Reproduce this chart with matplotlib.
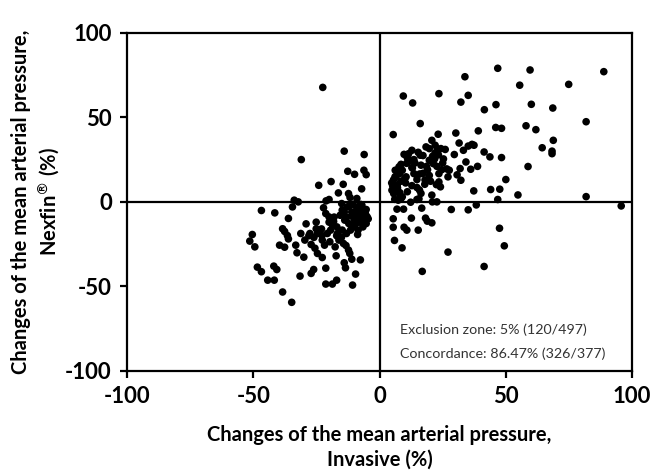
import matplotlib
matplotlib.use("Agg")
import matplotlib.pyplot as plt

# Changes of MAP: invasive (x, %) vs Nexfin (y, %)
invasive = [
    88.8, 46.8, 59.6, 74.9, 55.5, 33.8, 23.5, 9.4, 13.1, 35.1, 32.2, 46.1, 60.1, 68.6, 41.5,
    81.8, 58.0, 61.9, 46.0, 48.3, 16.1, 39.1, 30.2, 5.4, 23.2, 68.8, 64.4, 68.3, 68.3, 58.8,
    54.8, 81.8, 95.7, 50.0, 48.3, 43.7, 41.4, 36.6, 37.4, 35.1, 31.5, 33.2, 29.6, 38.8, 36.1,
    34.2, 31.9, 30.7, 32.2, 37.3, 44.0, 47.6, 46.8, 38.3, 35.1, 28.4, 47.5, 49.4, 41.4, 27.1,
    16.9, 23.5,
    5.9, 8.9, 5.4, 5.4, 9.7, 10.8, 15.3, 12.6, 18.2, 18.9, 20.7, 16.7, 6.9, 9.5, 20.9,
    22.7, 20.7, 16.4, 15.8, 15.6, 14.8, 12.8, 10.3, 8.4, 8.2, 5.6, 4.9, 4.8, 6.1, 6.2,
    7.7, 8.5, 9.7, 11.5, 12.8, 15.3, 16.1, 17.2, 13.6, 10.7, 12.8, 13.6, 10.5, 15.9, 17.2,
    18.6, 19.7, 20.7, 22.0, 23.0, 24.3, 26.0, 23.3, 25.3, 21.8, 21.3, 22.7, 24.6, 26.6, 27.6,
    27.1, 23.5, 22.5, 24.1, 19.7, 20.2, 17.9, 14.8, 7.9, 9.0, 7.1, 7.4, 12.3, 14.8, 12.3,
    18.4, 19.7, 16.4,
    6.0, 7.0, 5.5, 6.5, 8.0, 11.0, 9.0, 6.0, 5.2, 7.5, 10.0, 13.0, 11.0, 14.0, 19.0,
    21.0, 25.0, 22.0, 18.0, 8.5,
    -22.5, -31.0, -14.0, -6.1, -12.6, -9.9, -6.2, -5.3, -19.2, -24.1, -14.4, -16.3, -12.3, -7.1, -11.7,
    -9.0, -20.0, -21.2, -33.8, -32.2, -34.5, -46.8, -41.5, -36.1, -22.2, -21.3, -20.0, -18.2, -25.1, -29.1,
    -25.1, -24.6, -38.4, -37.6, -36.5, -50.4, -51.4, -49.4, -39.6, -37.6, -36.1, -33.2, -32.7, -30.0, -29.6,
    -27.1, -25.6, -24.6, -22.7, -48.4, -46.8, -44.3, -41.9, -40.7, -41.7, -38.4, -34.8, -31.5, -27.1, -26.1,
    -21.3, -21.3, -18.7, -17.0, -14.0, -13.5, -10.7, -9.5, -11.0, -7.6, -17.2, -17.6, -19.7, -20.7, -19.4,
    -16.7, -15.1, -14.3, -12.3, -13.3, -11.8, -11.5, -10.3, -8.5, -8.7, -6.6, -5.3, -4.9, -5.7, -6.9,
    -5.3, -8.5, -10.5, -12.8, -14.8, -15.6, -13.8, -12.2, -9.9, -7.9, -6.6, -9.5, -11.0, -8.2, -16.9,
    -18.7, -14.8, -13.1, -16.1, -22.7, -21.8, -22.8, -27.6, -31.2,
    -7.0, -9.0, -11.0, -13.0, -6.0, -8.0, -10.0, -12.0, -15.0, -17.0, -5.5, -7.5, -9.5, -4.5, -14.0,
    -18.0, -20.0, -23.0, -26.0, -28.0,
]
nexfin = [
    77.0, 79.0, 78.0, 69.5, 69.0, 74.0, 64.0, 62.6, 58.5, 63.0, 59.0, 57.5, 57.7, 55.5, 54.5,
    47.4, 45.0, 42.7, 44.0, 43.5, 46.3, 42.0, 40.7, 39.8, 40.0, 36.4, 32.0, 30.0, 28.5, 20.9,
    4.1, 3.1, -2.4, 13.2, 26.2, 26.6, 29.5, 34.0, 33.5, 33.0, 34.8, 30.5, 28.0, 21.0, 19.3,
    23.6, 19.7, 16.0, 12.8, 6.5, 7.3, 7.5, 1.4, -1.8, -4.7, -4.5, -15.6, -26.0, -38.2, -29.7,
    -41.1, 16.7,
    -22.8, -27.2, -15.0, -10.0, -15.0, -16.7, -16.7, -9.6, -9.6, -11.4, -12.4, -3.7, -4.3, -4.3, 0.0,
    0.0, 4.0, 5.0, 7.0, 1.8, 8.5, 9.6, 11.2, 12.2, 3.3, 4.9, 6.9, 11.2, 14.8, 18.7,
    20.7, 22.2, 28.1, 28.5, 30.5, 29.3, 27.6, 27.4, 25.0, 22.8, 20.3, 16.7, 14.8, 16.5, 16.9,
    21.0, 24.6, 36.4, 33.5, 31.3, 31.5, 31.0, 27.8, 25.4, 25.4, 22.6, 21.0, 19.0, 19.5, 18.7,
    14.8, 11.8, 10.2, 8.9, 15.6, 12.2, 10.4, 13.2, 16.7, 18.7, 8.3, 1.0, -0.2, 1.4, 24.6,
    32.5, 31.5, 21.7,
    8.0, 10.0, 13.0, 15.0, 5.5, 6.0, 3.0, 1.5, 9.5, 17.0, 14.0, 20.0, 26.0, 23.0, 19.0,
    27.0, 23.0, 29.0, 13.0, 2.0,
    67.7, 25.0, 30.0, 28.0, 18.1, 16.3, 18.7, 16.1, 12.0, 9.8, 10.4, 5.3, 4.9, 7.7, 2.6,
    2.0, 1.4, 0.6, 1.0, 0.0, -3.0, -5.1, -6.5, -9.8, -3.5, -6.9, -8.9, -11.6, -12.0, -13.0,
    -15.9, -18.7, -15.9, -17.5, -19.9, -19.3, -23.2, -26.6, -25.6, -26.8, -21.9, -25.6, -30.1, -32.7, -22.6,
    -25.2, -27.4, -30.5, -32.9, -38.6, -41.3, -46.3, -38.0, -40.0, -46.3, -53.3, -59.4, -43.9, -42.3, -40.0,
    -39.2, -48.6, -48.6, -46.3, -36.0, -39.0, -49.2, -42.7, -33.9, -34.3, -31.9, -26.6, -23.6, -18.7, -16.7,
    -18.7, -21.0, -24.6, -28.5, -25.8, -30.5, -16.7, -14.8, -16.7, -19.3, -14.8, -12.8, -8.9, -6.9, -5.3,
    -4.5, -3.0, -1.4, -3.0, -4.9, -7.9, -10.8, -12.8, -10.8, -8.9, -10.8, -6.9, -8.5, -5.3, -14.8,
    -13.6, -16.7, -18.7, -22.6, -22.6, -25.6, -19.9, -18.7, -18.7,
    -2.0, -4.0, -6.0, -9.0, -11.0, -12.0, -14.0, -2.5, -1.0, -20.0, -7.5, -1.5, -13.0, -10.0, -6.0,
    -9.0, -12.0, -16.0, -21.0, -20.0,
]

x_ticks = [-100, -50, 0, 50, 100]
y_ticks = [-100, -50, 0, 50, 100]
annotation_lines = ["Exclusion zone: 5% (120/497)", "Concordance: 86.47% (326/377)"]

plt.rcParams['font.family'] = ['Lato', 'DejaVu Sans']

fig = plt.figure(figsize=(6.55, 4.75), dpi=100)
ax = fig.add_axes([0.194, 0.219, 0.771, 0.712])

ax.scatter(invasive, nexfin, s=30, color='black', edgecolors='none', zorder=3)
ax.axhline(0, color='black', lw=1.6, zorder=2)
ax.axvline(0, color='black', lw=1.6, zorder=2)

ax.set_xlim(-100, 100)
ax.set_ylim(-100, 100)
ax.set_xticks(x_ticks)
ax.set_yticks(y_ticks)
ax.set_xticklabels([str(t) for t in x_ticks], fontsize=16, fontweight='bold')
ax.set_yticklabels([str(t) for t in y_ticks], fontsize=16, fontweight='bold')
ax.tick_params(direction='out', length=5, width=1.6, pad=6)
for sp in ax.spines.values():
    sp.set_linewidth(1.6)

ax.set_xlabel("Changes of the mean arterial pressure,\nInvasive (%)", fontsize=14.5,
              fontweight='bold', linespacing=1.25, labelpad=13)
ax.set_ylabel("Changes of the mean arterial pressure,\nNexfin$^{\\circledR}$ (%)", fontsize=14.5,
              fontweight='bold', linespacing=1.25, labelpad=3)

ax.text(8, -75.5, annotation_lines[0], fontsize=10.3, va='center', ha='left', color='#333333')
ax.text(8, -90, annotation_lines[1], fontsize=10.3, va='center', ha='left', color='#333333')

fig.savefig("out.png", dpi=100)
